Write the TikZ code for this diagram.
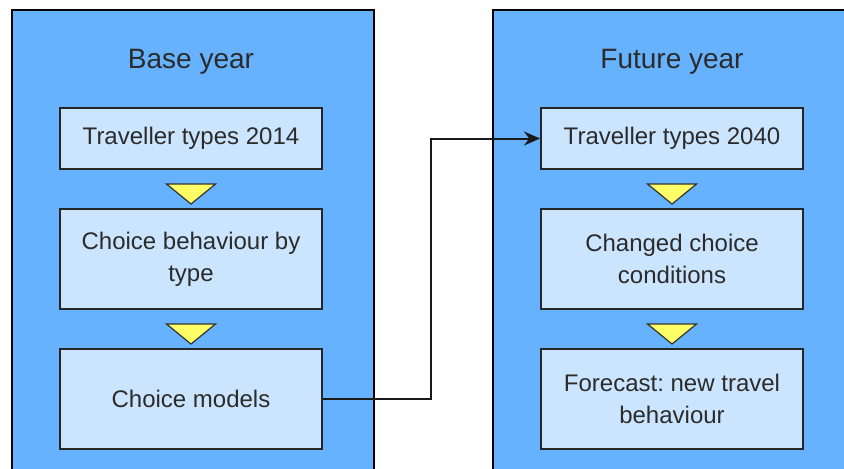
\documentclass[tikz,border=0pt]{standalone}
\usepackage{fontspec}
\setmainfont{Liberation Sans}
\usetikzlibrary{positioning,calc,arrows.meta}
\frenchspacing

\definecolor{panelblue}{HTML}{66B2FF}
\definecolor{boxblue}{HTML}{CCE5FF}
\definecolor{triyellow}{HTML}{FFFF66}
\definecolor{ink}{HTML}{2B2B2B}

\begin{document}
\begin{tikzpicture}[x=0.5pt,y=-0.5pt,node distance=19pt,
panel/.style={draw,fill=panelblue,line width=0.8pt,anchor=north west,minimum height=260pt},
title/.style={text=ink,font=\fontsize{14}{17}\selectfont},
stage/.style={draw=black!85,fill=boxblue,line width=1pt,minimum width=131pt,
  minimum height=50pt,align=center,text=ink,font=\fontsize{12}{16}\selectfont},
pointer/.style={draw=black!80,fill=triyellow,line width=0.6pt,line join=miter}]
\clip (0,0) rectangle (844,468);
% the two year panels run off the page
\node[panel,minimum width=181pt] (base) at (11,9) {};
\node[panel,minimum width=200pt] (future) at (492,9) {};
\node[title] (bt) at (191,62) {Base year};
\node[title] (ft) at (672,62) {Future year};
% base year column
\node[stage,minimum height=30.5pt] (b1) at (191,138.5) {Traveller types 2014};
\node[stage,below=of b1] (b2) {Choice behaviour by\\type};
\node[stage,below=of b2] (b3) {Choice models};
% future year column
\node[stage,minimum height=30.5pt] (f1) at (672,138.5) {Traveller types 2040};
\node[stage,below=of f1] (f2) {Changed choice\\conditions};
\node[stage,below=of f2] (f3) {Forecast: new travel\\behaviour};
% yellow step markers
\foreach \u in {b1,b2,f1,f2}
  \draw[pointer] ($(\u.south)+(-24.5,14)$) -- ++(49,0) -- ($(\u.south)+(0,34)$) -- cycle;
% link from the models to the future types
\coordinate (turn) at (431,0);
\draw[line width=1pt,black!90,-{Stealth[length=8pt,width=7pt]}]
(b3.east) -- (b3.east -| turn) |- (f1.west);
\end{tikzpicture}
\end{document}
